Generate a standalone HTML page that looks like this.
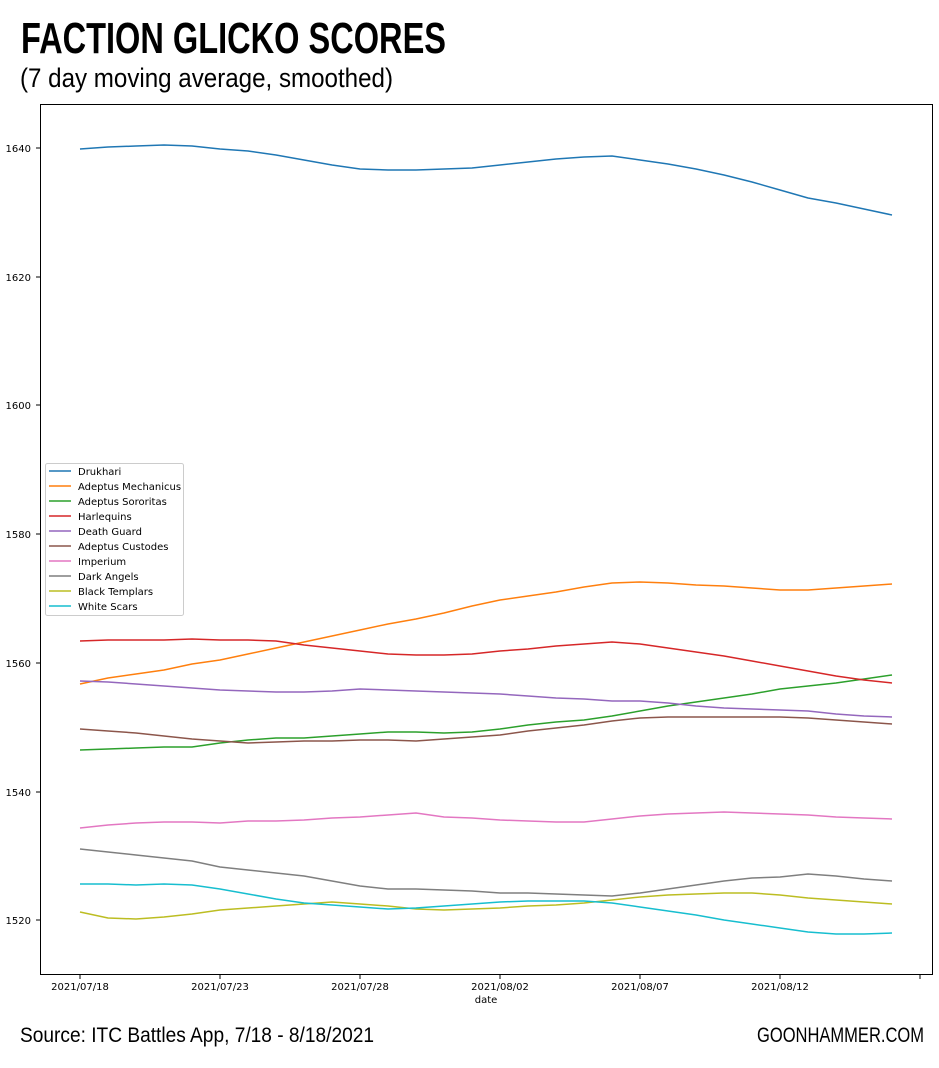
<!DOCTYPE html>
<html><head><meta charset="utf-8"><style>
html,body{margin:0;padding:0;background:#fff;}
svg{display:block;}
</style></head><body>
<svg width="939" height="1068" viewBox="0 0 939 1068" xmlns="http://www.w3.org/2000/svg">
<rect width="939" height="1068" fill="#fff"/>
<text x="21" y="53" font-family="Liberation Sans, sans-serif" font-weight="bold" font-size="44" textLength="425" lengthAdjust="spacingAndGlyphs">FACTION GLICKO SCORES</text>
<text x="20" y="87" font-family="Liberation Sans, sans-serif" font-size="27" textLength="373" lengthAdjust="spacingAndGlyphs">(7 day moving average, smoothed)</text>
<text x="20" y="1042" font-family="Liberation Sans, sans-serif" font-size="21" textLength="354" lengthAdjust="spacingAndGlyphs">Source: ITC Battles App, 7/18 - 8/18/2021</text>
<text x="757" y="1042" font-family="Liberation Sans, sans-serif" font-size="21" textLength="167" lengthAdjust="spacingAndGlyphs">GOONHAMMER.COM</text>

<g font-family="DejaVu Sans, sans-serif" font-size="10" fill="#000">
<text x="31" y="152" text-anchor="end">1640</text>
<text x="31" y="281" text-anchor="end">1620</text>
<text x="31" y="409" text-anchor="end">1600</text>
<text x="31" y="538" text-anchor="end">1580</text>
<text x="31" y="667" text-anchor="end">1560</text>
<text x="31" y="796" text-anchor="end">1540</text>
<text x="31" y="924" text-anchor="end">1520</text>
<text x="80" y="990" text-anchor="middle">2021/07/18</text>
<text x="220" y="990" text-anchor="middle">2021/07/23</text>
<text x="360" y="990" text-anchor="middle">2021/07/28</text>
<text x="500" y="990" text-anchor="middle">2021/08/02</text>
<text x="640" y="990" text-anchor="middle">2021/08/07</text>
<text x="780" y="990" text-anchor="middle">2021/08/12</text>
<text x="486" y="1003" text-anchor="middle">date</text>
</g>
<g stroke="#000" stroke-width="1">
<line x1="36" y1="148" x2="40" y2="148"/><line x1="36" y1="277" x2="40" y2="277"/>
<line x1="36" y1="405" x2="40" y2="405"/><line x1="36" y1="534" x2="40" y2="534"/>
<line x1="36" y1="663" x2="40" y2="663"/><line x1="36" y1="792" x2="40" y2="792"/>
<line x1="36" y1="920" x2="40" y2="920"/>
<line x1="80" y1="975" x2="80" y2="979"/><line x1="220" y1="975" x2="220" y2="979"/>
<line x1="360" y1="975" x2="360" y2="979"/><line x1="500" y1="975" x2="500" y2="979"/>
<line x1="640" y1="975" x2="640" y2="979"/><line x1="780" y1="975" x2="780" y2="979"/>
<line x1="920" y1="975" x2="920" y2="979"/>
</g>
<rect x="40.5" y="104.5" width="892" height="870" fill="none" stroke="#000" stroke-width="1"/>

<g fill="none" stroke-width="1.5" stroke-linejoin="round">
<polyline stroke="#1f77b4" points="80,149 108,147 136,146 164,145 192,146 220,149 248,151 276,155 304,160 332,165 360,169 388,170 416,170 444,169 472,168 500,165 528,162 556,159 584,157 612,156 640,160 668,164 696,169 724,175 752,182 780,190 808,198 836,203 864,209 892,215"/>
<polyline stroke="#ff7f0e" points="80,684 108,678 136,674 164,670 192,664 220,660 248,654 276,648 304,642 332,636 360,630 388,624 416,619 444,613 472,606 500,600 528,596 556,592 584,587 612,583 640,582 668,583 696,585 724,586 752,588 780,590 808,590 836,588 864,586 892,584"/>
<polyline stroke="#2ca02c" points="80,750 108,749 136,748 164,747 192,747 220,743 248,740 276,738 304,738 332,736 360,734 388,732 416,732 444,733 472,732 500,729 528,725 556,722 584,720 612,716 640,711 668,706 696,702 724,698 752,694 780,689 808,686 836,683 864,679 892,675"/>
<polyline stroke="#d62728" points="80,641 108,640 136,640 164,640 192,639 220,640 248,640 276,641 304,645 332,648 360,651 388,654 416,655 444,655 472,654 500,651 528,649 556,646 584,644 612,642 640,644 668,648 696,652 724,656 752,661 780,666 808,671 836,676 864,680 892,683"/>
<polyline stroke="#9467bd" points="80,681 108,682 136,684 164,686 192,688 220,690 248,691 276,692 304,692 332,691 360,689 388,690 416,691 444,692 472,693 500,694 528,696 556,698 584,699 612,701 640,701 668,703 696,706 724,708 752,709 780,710 808,711 836,714 864,716 892,717"/>
<polyline stroke="#8c564b" points="80,729 108,731 136,733 164,736 192,739 220,741 248,743 276,742 304,741 332,741 360,740 388,740 416,741 444,739 472,737 500,735 528,731 556,728 584,725 612,721 640,718 668,717 696,717 724,717 752,717 780,717 808,718 836,720 864,722 892,724"/>
<polyline stroke="#e377c2" points="80,828 108,825 136,823 164,822 192,822 220,823 248,821 276,821 304,820 332,818 360,817 388,815 416,813 444,817 472,818 500,820 528,821 556,822 584,822 612,819 640,816 668,814 696,813 724,812 752,813 780,814 808,815 836,817 864,818 892,819"/>
<polyline stroke="#7f7f7f" points="80,849 108,852 136,855 164,858 192,861 220,867 248,870 276,873 304,876 332,881 360,886 388,889 416,889 444,890 472,891 500,893 528,893 556,894 584,895 612,896 640,893 668,889 696,885 724,881 752,878 780,877 808,874 836,876 864,879 892,881"/>
<polyline stroke="#bcbd22" points="80,912 108,918 136,919 164,917 192,914 220,910 248,908 276,906 304,904 332,902 360,904 388,906 416,909 444,910 472,909 500,908 528,906 556,905 584,903 612,900 640,897 668,895 696,894 724,893 752,893 780,895 808,898 836,900 864,902 892,904"/>
<polyline stroke="#17becf" points="80,884 108,884 136,885 164,884 192,885 220,889 248,894 276,899 304,903 332,905 360,907 388,909 416,908 444,906 472,904 500,902 528,901 556,901 584,901 612,903 640,907 668,911 696,915 724,920 752,924 780,928 808,932 836,934 864,934 892,933"/>
</g>

<rect x="45.5" y="463.5" width="138" height="152" rx="2" fill="#fff" fill-opacity="0.8" stroke="#ccc" stroke-width="1"/>
<g stroke-width="1.5">
<line x1="49" y1="471" x2="71" y2="471" stroke="#1f77b4"/>
<line x1="49" y1="486" x2="71" y2="486" stroke="#ff7f0e"/>
<line x1="49" y1="501" x2="71" y2="501" stroke="#2ca02c"/>
<line x1="49" y1="516" x2="71" y2="516" stroke="#d62728"/>
<line x1="49" y1="531" x2="71" y2="531" stroke="#9467bd"/>
<line x1="49" y1="546" x2="71" y2="546" stroke="#8c564b"/>
<line x1="49" y1="561" x2="71" y2="561" stroke="#e377c2"/>
<line x1="49" y1="576" x2="71" y2="576" stroke="#7f7f7f"/>
<line x1="49" y1="591" x2="71" y2="591" stroke="#bcbd22"/>
<line x1="49" y1="606" x2="71" y2="606" stroke="#17becf"/>
</g>
<g font-family="DejaVu Sans, sans-serif" font-size="10" fill="#000">
<text x="78" y="475">Drukhari</text>
<text x="78" y="490">Adeptus Mechanicus</text>
<text x="78" y="505">Adeptus Sororitas</text>
<text x="78" y="520">Harlequins</text>
<text x="78" y="535">Death Guard</text>
<text x="78" y="550">Adeptus Custodes</text>
<text x="78" y="565">Imperium</text>
<text x="78" y="580">Dark Angels</text>
<text x="78" y="595">Black Templars</text>
<text x="78" y="610">White Scars</text>
</g>
</svg>
</body></html>
